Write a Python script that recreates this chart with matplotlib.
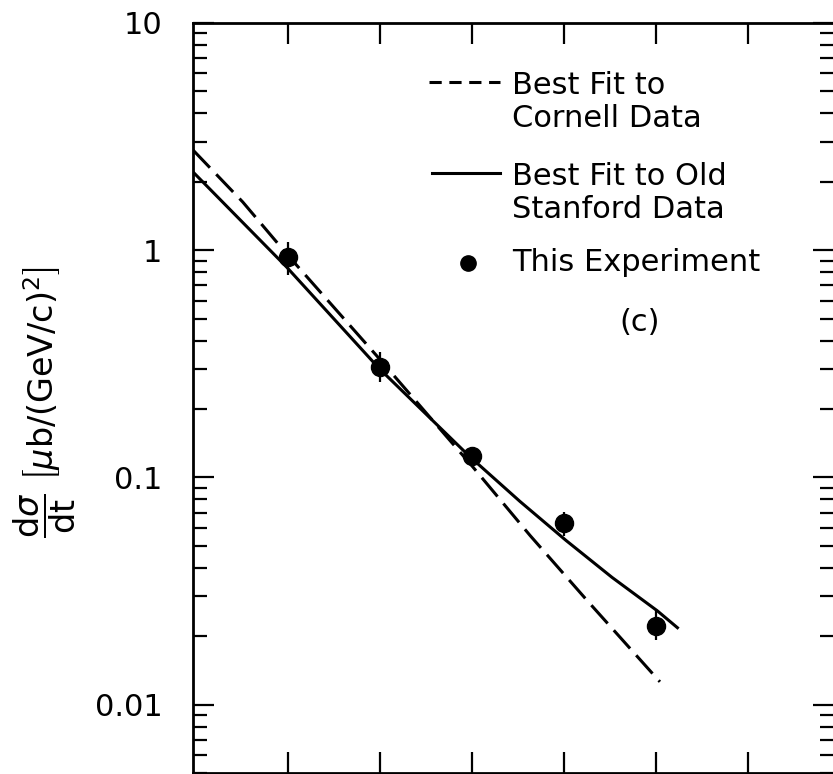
import matplotlib
matplotlib.use("Agg")
import matplotlib.pyplot as plt

# measured points (this experiment)
x_points = [1, 2, 3, 4, 5]
y_points = [0.932, 0.305, 0.124, 0.0627, 0.0221]
y_hi = [1.085, 0.355, 0.132, 0.0701, 0.0264]
y_lo = [0.776, 0.262, 0.117, 0.0551, 0.0192]

# best fit to Cornell data (dashed)
cornell_x = [-0.03, 0.51, 0.99, 1.99, 3.01, 3.63, 4.25, 5.04]
cornell_y = [2.76, 1.63, 0.960, 0.334, 0.111, 0.0555, 0.0287, 0.0126]

# best fit to old Stanford data (solid)
stanford_x = [-0.03, 0.99, 1.99, 2.97, 3.52, 4.02, 4.52, 5.01, 5.23]
stanford_y = [2.21, 0.84, 0.302, 0.124, 0.0784, 0.0528, 0.0363, 0.0259, 0.0218]

y_ticks = [0.01, 0.1, 1, 10]
y_ticklabels = ["0.01", "0.1", "1", "10"]
x_ticks = [1, 2, 3, 4, 5, 6]

plt.rcParams["font.family"] = ["DejaVu Sans"]
plt.rcParams["mathtext.fontset"] = "dejavusans"

fig = plt.figure(figsize=(8.33, 7.74), dpi=100)
ax = fig.add_axes([193/833, 1/774, 641/833, 750/774])

ax.plot(cornell_x, cornell_y, color="black", lw=2.2, dashes=[8, 3])
ax.plot(stanford_x, stanford_y, color="black", lw=2.2)

err_lo = [y - lo for y, lo in zip(y_points, y_lo)]
err_hi = [hi - y for y, hi in zip(y_points, y_hi)]
ax.errorbar(x_points, y_points, yerr=[err_lo, err_hi], fmt="o", color="black",
            ms=13, elinewidth=1.6, capsize=0)

ax.set_yscale("log")
ax.set_xlim(-0.03, 6.93)
ax.set_ylim(0.005, 10)
ax.set_xticks(x_ticks)
ax.set_xticklabels([])
ax.set_yticks(y_ticks)
ax.set_yticklabels(y_ticklabels)

ax.tick_params(axis="both", which="major", direction="in", length=15, width=1.6,
               top=True, right=True, labelsize=22, pad=22)
ax.tick_params(axis="y", which="minor", direction="in", length=10, width=1.6,
               right=True, left=True)
for s in ax.spines.values():
    s.set_linewidth(2)
ax.spines["right"].set_visible(False)

# legend drawn by hand
ax.plot([0.368, 0.479], [0.921, 0.921], transform=ax.transAxes, color="black",
        lw=2.2, dashes=[4, 2.5])
ax.plot([0.373, 0.479], [0.800, 0.800], transform=ax.transAxes, color="black", lw=2.2)
ax.plot([0.429], [0.680], "o", transform=ax.transAxes, color="black", ms=11)
ax.text(0.498, 0.895, "Best Fit to\nCornell Data", transform=ax.transAxes,
        fontsize=22, va="center", ha="left", linespacing=1.18)
ax.text(0.498, 0.773, "Best Fit to Old\nStanford Data", transform=ax.transAxes,
        fontsize=22, va="center", ha="left", linespacing=1.18)
ax.text(0.498, 0.681, "This Experiment", transform=ax.transAxes,
        fontsize=22, va="center", ha="left")
ax.text(0.697, 0.601, "(c)", transform=ax.transAxes,
        fontsize=22, va="center", ha="center")

fig.text(45/833, 1 - 402/774,
         r"$\dfrac{\mathrm{d}\sigma}{\mathrm{dt}}\ \left[\mu\mathrm{b/(GeV/c)^2}\right]$",
         rotation=90, ha="center", va="center", fontsize=24)

fig.savefig("out.png", dpi=100)
